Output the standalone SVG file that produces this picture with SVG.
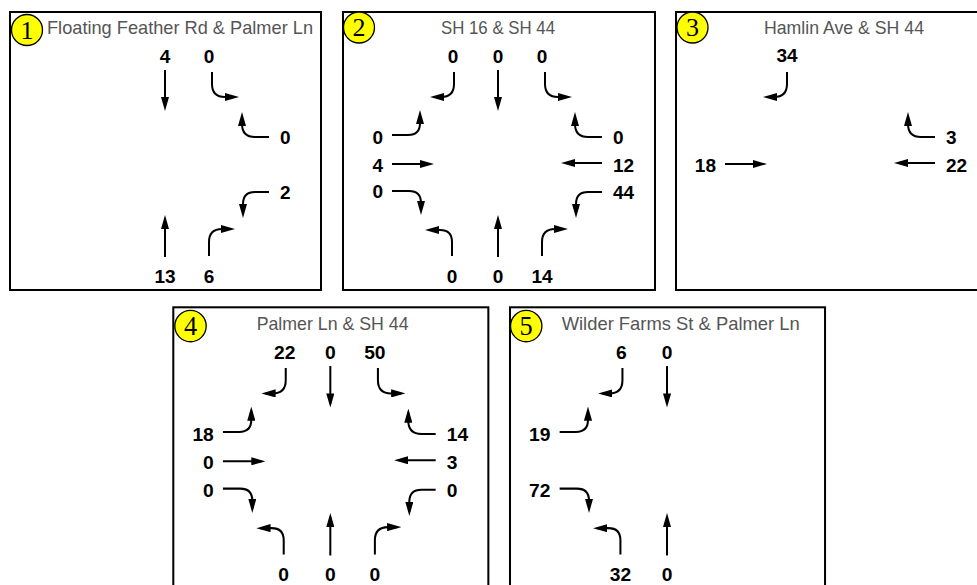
<svg xmlns="http://www.w3.org/2000/svg" width="977" height="585" viewBox="0 0 977 585">
<style>
.box{fill:#fff;stroke:#000;stroke-width:2}
.badge{fill:#ffff00;stroke:#000;stroke-width:1.3}
.bnum{font-family:"Liberation Serif",serif;font-size:26px;fill:#000;text-anchor:middle}
.title{font-family:"Liberation Sans",Arial,sans-serif;font-size:19px;fill:#555}
.n{font-family:"Liberation Sans",Arial,sans-serif;font-size:19px;font-weight:bold;fill:#000}
.c{text-anchor:middle}
.r{text-anchor:end}
.l{text-anchor:start}
.arr{fill:none;stroke:#000;stroke-width:2;marker-end:url(#ah)}
</style>
<defs>
<marker id="ah" viewBox="0 0 14 8" markerWidth="14" markerHeight="8" refX="10" refY="4" orient="auto" markerUnits="userSpaceOnUse"><path d="M0,0 L14,4 L0,8 z" fill="#000"/></marker>
</defs>
<rect width="977" height="585" fill="#fff"/>

<g id="panel1" transform="translate(10,12)">
<rect class="box" x="0" y="0" width="311" height="278"/>
<circle class="badge" cx="17" cy="18" r="15.5"/>
<text class="bnum" x="17" y="26.5">1</text>
<text class="title" x="37" y="22" textLength="266" lengthAdjust="spacingAndGlyphs">Floating Feather Rd &amp; Palmer Ln</text>
<text class="n c" x="155" y="51">4</text>
<text class="n c" x="199" y="51">0</text>
<text class="n l" x="270" y="132">0</text>
<text class="n l" x="270" y="187">2</text>
<text class="n c" x="155" y="271">13</text>
<text class="n c" x="199" y="271">6</text>
<g class="connectors">
<path class="arr" d="M155,58 V95"/>
<path class="arr" d="M202,60 V72 Q202,85 215,85 H225"/>
<path class="arr" d="M259,125 H245 Q232,125 232,112 V104"/>
<path class="arr" d="M259,180 H245 Q233,180 233,192 V202"/>
<path class="arr" d="M155,245 V207"/>
<path class="arr" d="M199,244 V230 Q199,217 212,217 H221"/>
</g>
</g>

<g id="panel2" transform="translate(343,12)">
<rect class="box" x="0" y="0" width="312" height="278"/>
<circle class="badge" cx="16" cy="15.5" r="15.5"/>
<text class="bnum" x="16" y="24">2</text>
<text class="title" x="98" y="22" textLength="114" lengthAdjust="spacingAndGlyphs">SH 16 &amp; SH 44</text>
<text class="n c" x="110" y="51">0</text>
<text class="n c" x="155" y="51">0</text>
<text class="n c" x="199" y="51">0</text>
<text class="n r" x="40" y="132">0</text>
<text class="n r" x="40" y="160">4</text>
<text class="n r" x="40" y="186">0</text>
<text class="n l" x="270" y="132">0</text>
<text class="n l" x="270" y="160">12</text>
<text class="n l" x="270" y="187">44</text>
<text class="n c" x="109" y="271">0</text>
<text class="n c" x="155" y="271">0</text>
<text class="n c" x="199" y="271">14</text>
<g class="connectors">
<path class="arr" d="M111,60 V72 Q111,85 98,85 H91"/>
<path class="arr" d="M155,58 V95"/>
<path class="arr" d="M202,60 V72 Q202,85 215,85 H225"/>
<path class="arr" d="M49,123 H65 Q77,123 77,111 V102"/>
<path class="arr" d="M49,152 H87"/>
<path class="arr" d="M49,179 H66 Q78,179 78,191 V199"/>
<path class="arr" d="M259,125 H245 Q232,125 232,112 V104"/>
<path class="arr" d="M259,151 H222"/>
<path class="arr" d="M259,180 H245 Q233,180 233,192 V202"/>
<path class="arr" d="M109,244 V230 Q109,218 97,218 H86"/>
<path class="arr" d="M155,245 V207"/>
<path class="arr" d="M199,244 V230 Q199,217 212,217 H221"/>
</g>
</g>

<g id="panel3" transform="translate(676,12)">
<rect class="box" x="0" y="0" width="311" height="278"/>
<circle class="badge" cx="16.5" cy="15.5" r="15.5"/>
<text class="bnum" x="16.5" y="24">3</text>
<text class="title" x="88" y="22" textLength="160" lengthAdjust="spacingAndGlyphs">Hamlin Ave &amp; SH 44</text>
<text class="n c" x="111" y="50">34</text>
<text class="n r" x="40" y="160">18</text>
<text class="n l" x="270" y="132">3</text>
<text class="n l" x="270" y="160">22</text>
<g class="connectors">
<path class="arr" d="M111,60 V72 Q111,85 98,85 H91"/>
<path class="arr" d="M49,152 H87"/>
<path class="arr" d="M259,125 H245 Q232,125 232,112 V104"/>
<path class="arr" d="M259,151 H222"/>
</g>
</g>

<g id="panel4" transform="translate(173.3,307.3) scale(1.013)">
<rect class="box" x="0" y="0" width="311" height="285"/>
<circle class="badge" cx="17" cy="18.5" r="15.5"/>
<text class="bnum" x="17" y="27">4</text>
<text class="title" x="82.3" y="22.4" textLength="150" lengthAdjust="spacingAndGlyphs">Palmer Ln &amp; SH 44</text>
<text class="n c" x="110" y="51">22</text>
<text class="n c" x="155" y="51">0</text>
<text class="n c" x="199" y="51">50</text>
<text class="n r" x="40" y="132">18</text>
<text class="n r" x="40" y="160">0</text>
<text class="n r" x="40" y="187">0</text>
<text class="n l" x="270" y="132">14</text>
<text class="n l" x="270" y="160">3</text>
<text class="n l" x="270" y="187">0</text>
<text class="n c" x="109" y="270">0</text>
<text class="n c" x="155" y="270">0</text>
<text class="n c" x="199" y="270">0</text>
<g class="connectors">
<path class="arr" d="M111,60 V72 Q111,85 98,85 H91"/>
<path class="arr" d="M155,58 V95"/>
<path class="arr" d="M202,60 V72 Q202,85 215,85 H225"/>
<path class="arr" d="M49,123 H65 Q77,123 77,111 V102"/>
<path class="arr" d="M49,152 H87"/>
<path class="arr" d="M49,179 H66 Q78,179 78,191 V199"/>
<path class="arr" d="M259,125 H245 Q232,125 232,112 V104"/>
<path class="arr" d="M259,151 H222"/>
<path class="arr" d="M259,180 H245 Q233,180 233,192 V202"/>
<path class="arr" d="M109,244 V230 Q109,218 97,218 H86"/>
<path class="arr" d="M155,245 V207"/>
<path class="arr" d="M199,244 V230 Q199,217 212,217 H221"/>
</g>
</g>

<g id="panel5" transform="translate(510,307.3) scale(1.013)">
<rect class="box" x="0" y="0" width="311" height="285"/>
<circle class="badge" cx="16" cy="18.5" r="15.5"/>
<text class="bnum" x="16" y="27">5</text>
<text class="title" x="51" y="22.4" textLength="235" lengthAdjust="spacingAndGlyphs">Wilder Farms St &amp; Palmer Ln</text>
<text class="n c" x="110" y="51">6</text>
<text class="n c" x="155" y="51">0</text>
<text class="n r" x="40" y="132">19</text>
<text class="n r" x="40" y="187">72</text>
<text class="n c" x="109" y="270">32</text>
<text class="n c" x="155" y="270">0</text>
<g class="connectors">
<path class="arr" d="M111,60 V72 Q111,85 98,85 H91"/>
<path class="arr" d="M155,58 V95"/>
<path class="arr" d="M49,123 H65 Q77,123 77,111 V102"/>
<path class="arr" d="M49,179 H66 Q78,179 78,191 V199"/>
<path class="arr" d="M109,244 V230 Q109,218 97,218 H86"/>
<path class="arr" d="M155,245 V207"/>
</g>
</g>
</svg>
